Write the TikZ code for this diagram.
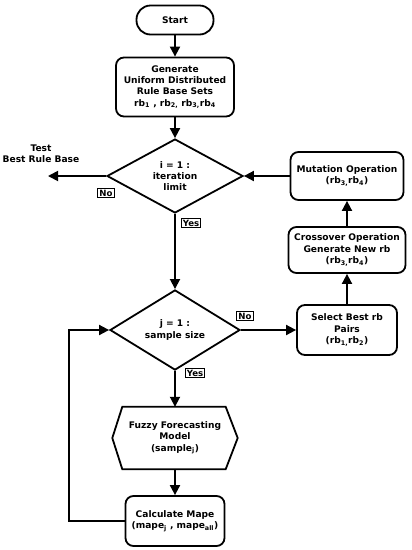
\documentclass[tikz,border=0pt]{standalone}
\usepackage{fontspec}
\setmainfont{DejaVu Sans}
\usetikzlibrary{shapes.geometric,arrows.meta}
\newcommand\sbs[1]{\textsubscript{#1}}
\begin{document}
\begin{tikzpicture}[x=1pt,y=-1pt,
  every node/.style={font=\fontsize{9.1}{11.3}\selectfont\bfseries, align=center},
  line/.style={line width=1.8pt},
  arr/.style={line width=1.8pt, -{Triangle[length=10pt,width=10pt]}},
  rbox/.style={draw, line width=1.8pt, rounded corners=8pt, inner sep=1pt},
  dia/.style={draw, line width=1.8pt, diamond, inner sep=0pt},
  lab/.style={draw, line width=1.1pt, inner sep=1.6pt, font=\fontsize{8.6}{9}\selectfont\bfseries}]
\useasboundingbox (0,0) rectangle (412,550);
\node[rbox, rounded corners=14pt, minimum width=77pt, minimum height=29pt] (start) at (175,20) {Start};
\node[rbox, minimum width=118pt, minimum height=59pt] (gen) at (175,87) {Generate\\Uniform Distributed\\Rule Base Sets\\rb\sbs{1} , rb\sbs{2,} rb\sbs{3,}rb\sbs{4}};
\node[dia, minimum width=136pt, minimum height=69pt] (d1) at (175,176) {i = 1 :\\iteration\\limit};
\node (test) at (41,154) {Test\\Best Rule Base};
\coordinate (tend) at (48,176);
\node[rbox, minimum width=113pt, minimum height=48pt] (mut) at (347,176) {Mutation Operation\\(rb\sbs{3,}rb\sbs{4})};
\node[rbox, minimum width=117pt, minimum height=46pt] (cross) at (347,250) {Crossover Operation\\Generate New rb\\(rb\sbs{3,}rb\sbs{4})};
\node[rbox, minimum width=100pt, minimum height=50pt] (sel) at (347,330) {Select Best rb\\Pairs\\(rb\sbs{1,}rb\sbs{2})};
\node[dia, minimum width=130pt, minimum height=65pt] (d2) at (175,330) {j = 1 :\\sample size};
\node[minimum width=125pt, minimum height=62pt, inner sep=0pt] (fuzzy) at (175,438) {Fuzzy Forecasting\\Model\\(sample\sbs{j})};
\draw[line, line join=miter] (fuzzy.west) -- ([xshift=10pt]fuzzy.north west) -- ([xshift=-12pt]fuzzy.north east) -- (fuzzy.east) -- ([xshift=-12pt]fuzzy.south east) -- ([xshift=10pt]fuzzy.south west) -- cycle;
\node[rbox, minimum width=99pt, minimum height=50pt] (calc) at (175,521) {Calculate Mape\\(mape\sbs{j} , mape\sbs{all})};
\coordinate (lp) at (69,521);
\node[lab] (no1) at (106,193) {No};
\node[lab] (yes1) at (191,223) {Yes};
\node[lab] (no2) at (245,316) {No};
\node[lab] (yes2) at (195,373) {Yes};
\draw[arr] (start) -- (gen);
\draw[arr] (gen) -- (d1);
\draw[arr] (d1.west) -- (tend);
\draw[arr] (mut.west) -- (d1.east);
\draw[arr] (cross) -- (mut);
\draw[arr] (sel) -- (cross);
\draw[arr] (d1.south) -- (d2.north);
\draw[arr] (d2.east) -- (sel.west);
\draw[arr] (d2.south) -- (fuzzy.north);
\draw[arr] (fuzzy.south) -- (calc.north);
\draw[arr] (calc.west) -- (lp) |- (d2.west);
\end{tikzpicture}
\end{document}
